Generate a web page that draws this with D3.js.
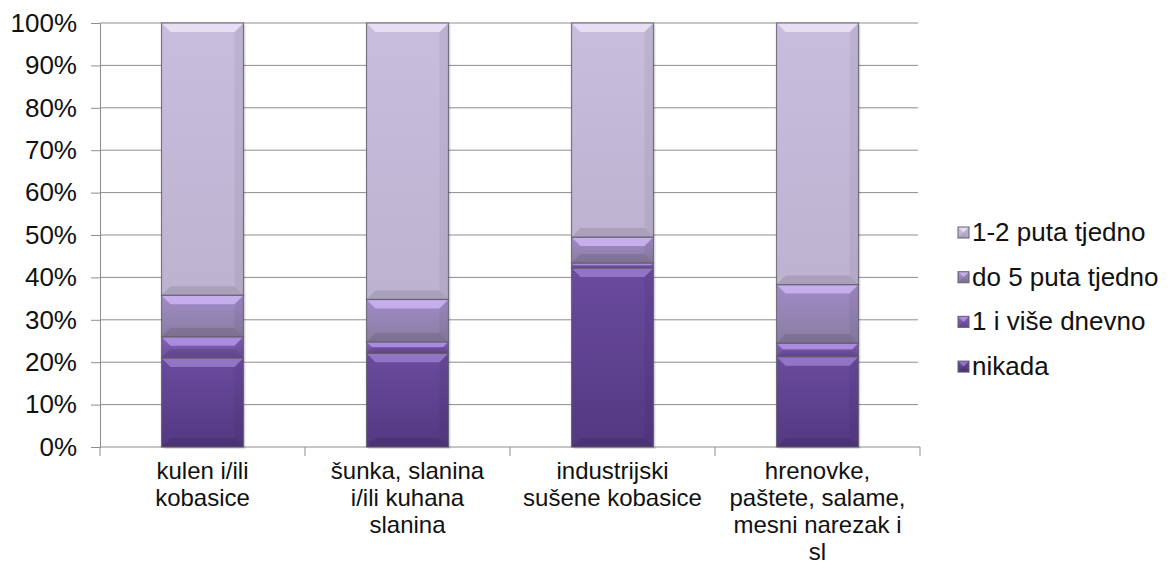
<!DOCTYPE html>
<html>
<head>
<meta charset="utf-8">
<script src="https://cdn.jsdelivr.net/npm/d3@7"></script>
<style>
  body { margin: 0; background: #fff; }
  text { font-family: "Liberation Sans", Arial, sans-serif; fill: #111; }
</style>
</head>
<body>
<script>
const w = 1174
const h = 579

// data
const categories = ['kulen i/ili kobasice', 'šunka, slanina i/ili kuhana slanina', 'industrijski sušene kobasice', 'hrenovke, paštete, salame, mesni narezak i sl']
const categoryLines = [
  ['kulen i/ili', 'kobasice'],
  ['šunka, slanina', 'i/ili kuhana', 'slanina'],
  ['industrijski', 'sušene kobasice'],
  ['hrenovke,', 'paštete, salame,', 'mesni narezak i', 'sl']
]
const seriesNames = ['nikada', '1 i više dnevno', 'do 5 puta tjedno', '1-2 puta tjedno']
const nikada = [21.0, 22.1, 42.2, 21.3]
const jednomDnevno = [5.0, 2.7, 1.2, 3.2]
const do5Tjedno = [9.8, 10.0, 6.1, 13.8]
const dvaTjedno = [64.2, 65.2, 50.5, 61.7]
const yTicks = [0, 10, 20, 30, 40, 50, 60, 70, 80, 90, 100]

// colours: [top, bottom, highlight]
const colors = {
  'nikada': ['#6a4b9e', '#533882', '#9a7ccc'],
  '1 i više dnevno': ['#8462b8', '#6c4e9a', '#b393e6'],
  'do 5 puta tjedno': ['#a08ac8', '#8a7ea2', '#cdb5f2'],
  '1-2 puta tjedno': ['#c8bddd', '#bdb3d0', '#ece4f8']
}

const rows = categories.map((c, i) => ({
  cat: c,
  'nikada': nikada[i],
  '1 i više dnevno': jednomDnevno[i],
  'do 5 puta tjedno': do5Tjedno[i],
  '1-2 puta tjedno': dvaTjedno[i]
}))
const stacked = d3.stack().keys(seriesNames)(rows)

const svg = d3.select('body').append('svg').attr('width', w).attr('height', h)
const defs = svg.append('defs')

seriesNames.forEach((s, i) => {
  const g = defs.append('linearGradient').attr('id', 'grad' + i).attr('x1', 0).attr('y1', 0).attr('x2', 0).attr('y2', 1)
  g.append('stop').attr('offset', '0%').attr('stop-color', colors[s][0])
  g.append('stop').attr('offset', '100%').attr('stop-color', colors[s][1])
})

const x = d3.scaleBand().domain(categories).range([100, 920]).paddingInner(0.6).paddingOuter(0.3)
const y = d3.scaleLinear().domain([0, 100]).range([447, 23])

// gridlines
svg.append('g').selectAll('line').data(yTicks.slice(1)).enter().append('line')
  .attr('x1', 100).attr('x2', 918)
  .attr('y1', d => y(d)).attr('y2', d => y(d))
  .attr('stroke', '#8e8e8e').attr('stroke-width', 1)

// y axis
const leftAxis = d3.axisLeft(y).tickValues(yTicks).tickFormat(d => d + '%').tickSize(9).tickPadding(14)
const ya = svg.append('g').attr('transform', 'translate(100,0)').call(leftAxis)
ya.select('.domain').attr('stroke', '#8e8e8e')
ya.selectAll('.tick line').attr('stroke', '#8e8e8e')
ya.selectAll('.tick text').style('font-size', '26px').attr('fill', '#111')

// x axis
const step = x.step()
const bounds = d3.range(categories.length + 1).map(i => x.range()[0] + i * step)
svg.append('line').attr('x1', 100).attr('x2', 920).attr('y1', y(0)).attr('y2', y(0)).attr('stroke', '#8e8e8e')
svg.append('g').selectAll('line').data(bounds).enter().append('line')
  .attr('x1', d => d).attr('x2', d => d).attr('y1', y(0)).attr('y2', y(0) + 9)
  .attr('stroke', '#8e8e8e')

const labels = svg.append('g').selectAll('text').data(categories).enter().append('text')
  .attr('x', d => x(d) + x.bandwidth() / 2)
  .attr('y', 479)
  .attr('text-anchor', 'middle')
  .style('font-size', '24px')
labels.each(function (d, i) {
  const t = d3.select(this)
  categoryLines[i].forEach((line, j) => {
    t.append('tspan').attr('x', x(d) + x.bandwidth() / 2).attr('dy', j === 0 ? 0 : 27).text(line)
  })
})

// bevelled block
function bevel(g, x0, y0, bw, bh, i, name) {
  const b = Math.min(9, bh / 2.2)
  g.append('rect').attr('x', x0).attr('y', y0).attr('width', bw).attr('height', bh)
    .attr('fill', 'url(#grad' + i + ')')
  g.append('path')
    .attr('d', `M${x0},${y0}L${x0 + bw},${y0}L${x0 + bw - b},${y0 + b}L${x0 + b},${y0 + b}Z`)
    .attr('fill', colors[name][2]).attr('opacity', 0.85)
  g.append('path')
    .attr('d', `M${x0},${y0 + bh}L${x0 + bw},${y0 + bh}L${x0 + bw - b},${y0 + bh - b}L${x0 + b},${y0 + bh - b}Z`)
    .attr('fill', '#000').attr('opacity', 0.1)
  g.append('path')
    .attr('d', `M${x0 + bw},${y0}L${x0 + bw},${y0 + bh}L${x0 + bw - b},${y0 + bh - b}L${x0 + bw - b},${y0 + b}Z`)
    .attr('fill', '#000').attr('opacity', 0.05)
  g.append('rect').attr('x', x0).attr('y', y0).attr('width', bw).attr('height', bh)
    .attr('fill', 'none').attr('stroke', '#5f5a66').attr('stroke-width', 1.2).attr('stroke-opacity', 0.8)
}

// soft shadow under whole bars
svg.append('g').selectAll('rect').data(rows).enter().append('rect')
  .attr('x', d => x(d.cat) + 2).attr('y', y(100) + 2)
  .attr('width', x.bandwidth()).attr('height', y(0) - y(100))
  .attr('fill', '#000').attr('opacity', 0.12)

stacked.forEach((layer, i) => {
  const g = svg.append('g')
  layer.forEach(d => {
    const x0 = x(d.data.cat)
    const y0 = y(d[1])
    bevel(g, x0, y0, x.bandwidth(), y(d[0]) - y(d[1]), i, layer.key)
  })
})

// legend
const legendOrder = seriesNames.slice().reverse()
const legend = svg.append('g').attr('transform', 'translate(958,232)')
legendOrder.forEach((s, k) => {
  const i = seriesNames.indexOf(s)
  const lg = legend.append('g').attr('transform', `translate(0,${k * 44.7})`)
  bevel(lg, 0, -5, 11, 11, i, s)
  lg.append('text').attr('x', 14).attr('y', 9).style('font-size', '26px').text(s)
})
</script>
</body>
</html>
